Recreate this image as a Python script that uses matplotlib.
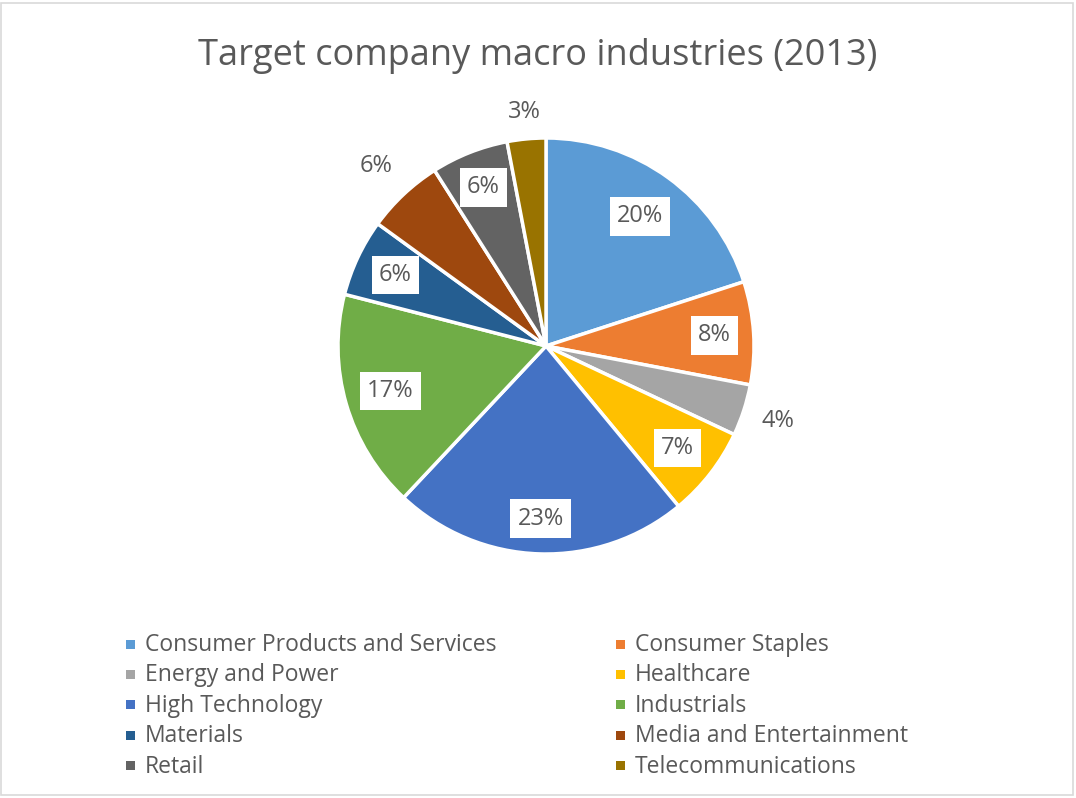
import numpy as np
import matplotlib.pyplot as plt
from matplotlib.patches import Rectangle

# industry shares (%), clockwise from 12 o'clock
industries = ['Consumer Products and Services', 'Consumer Staples', 'Energy and Power',
              'Healthcare', 'High Technology', 'Industrials', 'Materials',
              'Media and Entertainment', 'Retail', 'Telecommunications']
shares = [20, 8, 4, 7, 23, 17, 6, 6, 6, 3]
colors = ['#5B9BD5', '#ED7D31', '#A5A5A5', '#FFC000', '#4472C4', '#70AD47',
          '#255E91', '#9E480E', '#636363', '#997300']
# label radius: small slices get their label outside the pie
label_r = [0.77, 0.81, 1.17, 0.80, 0.83, 0.78, 0.80, 1.19, 0.82, 1.13]
boxed = [r < 1 for r in label_r]

plt.rcParams['font.family'] = ['Open Sans', 'DejaVu Sans']
txt_color = '#595959'

W, H = 1076, 798
fig = plt.figure(figsize=(W / 100, H / 100), dpi=100)
fig.patches.append(Rectangle((1 / W, 3 / H), 1 - 4 / W, 1 - 6 / H, transform=fig.transFigure,
                             fill=False, edgecolor='#D9D9D9', linewidth=1.2))

fig.text(0.5, 1 - 56 / H, 'Target company macro industries (2013)', ha='center', va='center',
         fontsize=26, color=txt_color)

# pie axes, centre at (546, 346) px
cx, cy, half = 546, 346, 210
ax = fig.add_axes([(cx - half) / W, (H - cy - half) / H, 2 * half / W, 2 * half / H])
rad = 208 / half
wedges, _ = ax.pie(shares, colors=colors, startangle=90, counterclock=False, radius=rad,
                   wedgeprops=dict(edgecolor='white', linewidth=2.5))
ax.set_xlim(-1, 1)
ax.set_ylim(-1, 1)
ax.set_aspect('equal')
ax.axis('off')

for w, v, r, b in zip(wedges, shares, label_r, boxed):
    ang = np.deg2rad((w.theta1 + w.theta2) / 2)
    x, y = r * rad * np.cos(ang), r * rad * np.sin(ang)
    bbox = dict(boxstyle='square,pad=0.3', facecolor='white', edgecolor='none') if b else None
    ax.text(x, y, f'{v}%', ha='center', va='center', fontsize=17, color=txt_color, bbox=bbox)

# legend grid, two columns
col_x = [130, 620]
row_y0, row_dy = 645, 30.4
for i, (name, c) in enumerate(zip(industries, colors)):
    x = col_x[i % 2]
    y = row_y0 + (i // 2) * row_dy
    fig.patches.append(Rectangle(((x - 4.5) / W, (H - y - 3.5) / H), 9 / W, 9 / H,
                                 transform=fig.transFigure, facecolor=c, edgecolor='none'))
    fig.text((x + 15) / W, 1 - y / H, name, ha='left', va='center', fontsize=16.5, color=txt_color)

fig.savefig('out.png', dpi=100)
